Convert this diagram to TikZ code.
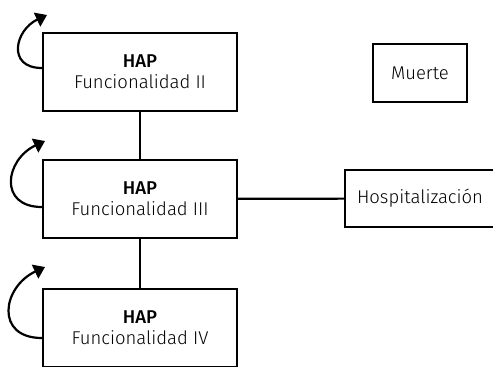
\documentclass[tikz,border=0pt]{standalone}
\usepackage{fontspec}
\setmainfont{Fira Sans Light}[BoldFont=Fira Sans Medium]
\usetikzlibrary{arrows.meta}
\begin{document}
\begin{tikzpicture}[x=1pt,y=-1pt]
    \tikzstyle{box} = [draw, line width=2.2pt, fill=white, align=center,
    minimum width=194pt, minimum height=78pt, inner sep=0pt,
    font=\fontsize{18.5}{21}\selectfont];
    \tikzstyle{sbox} = [draw, line width=2.2pt, fill=white,
    inner sep=0pt, font=\fontsize{18.5}{21}\selectfont];
    \tikzstyle{gl} = [black, line width=2.2pt, -];
    \tikzstyle{lp} = [black, line width=2.2pt,
    -{Triangle[length=11pt,width=15pt]}];

    \useasboundingbox (0,0) rectangle (493,367);

    \node[box] (1) at (140,72){\textbf{HAP}\\Funcionalidad II};
    \node[box] (2) at (140,199){\textbf{HAP}\\Funcionalidad III};
    \node[box] (3) at (140,328){\textbf{HAP}\\Funcionalidad IV};

    \node[sbox, minimum width=94pt, minimum height=58pt] (4) at (420,73){Muerte};
    \node[sbox, minimum width=150pt, minimum height=57pt] (5) at (420,198.5){Hospitalización};

    \coordinate (t1) at (47,15);
    \coordinate (t2) at (45,141);
    \coordinate (t3) at (45,267);

    \path[gl] (1) edge (2)
              (2) edge (3)
                  edge (5);

    \draw[lp] ([yshift=4pt]1.west) to[out=180,in=205,looseness=1.7] (t1);
    \draw[lp] ([yshift=-8pt]2.west) to[out=180,in=205,looseness=1.7] (t2);
    \draw[lp] ([yshift=-10pt]3.west) to[out=180,in=205,looseness=1.7] (t3);

  \end{tikzpicture}
\end{document}
